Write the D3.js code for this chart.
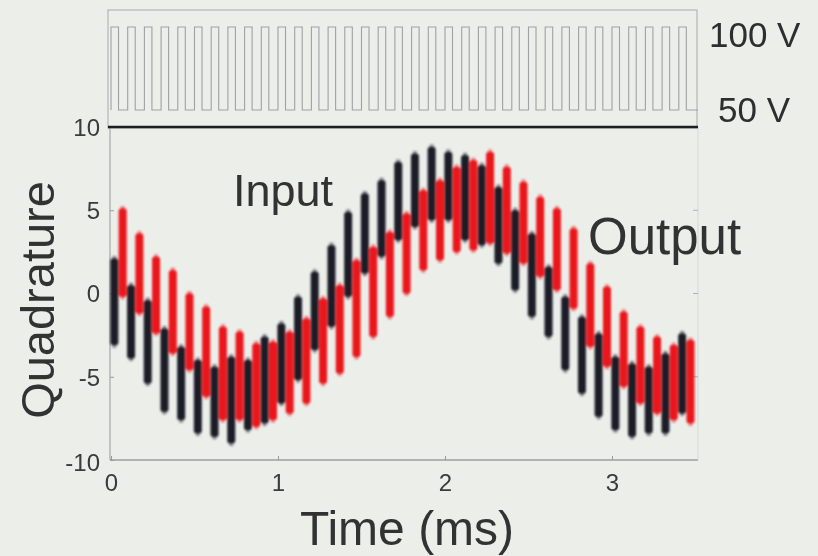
<!DOCTYPE html>
<html>
<head>
<meta charset="utf-8">
<script src="https://cdn.jsdelivr.net/npm/d3@7"></script>
<style>
  body { margin: 0; background: #eceeea; }
  svg { display: block; font-family: "Liberation Sans", Arial, sans-serif; }
</style>
</head>
<body>
<svg id="chart" width="818" height="556"></svg>
<script>
// sample times (ms) of the input (black) and output (red) bursts
var inputTimes  = [0.02,0.12,0.22,0.32,0.42,0.52,0.62,0.72,0.82,0.92,1.02,1.12,1.22,1.32,1.42,1.52,1.62,1.72,1.82,1.92,2.02,2.12,2.22,2.32,2.42,2.52,2.62,2.72,2.82,2.92,3.02,3.12,3.22,3.32,3.42];
var inputTop    = [2.1,0.5,-0.4,-2.1,-3.2,-4.0,-4.4,-3.8,-4.0,-2.6,-1.8,-0.2,1.3,2.9,4.9,6.0,6.8,7.9,8.4,8.8,8.5,8.3,7.7,6.4,5.0,3.6,1.6,-0.2,-1.4,-2.4,-3.8,-4.2,-4.4,-3.6,-2.4];
var inputBottom = [-3.1,-3.9,-5.4,-7.1,-7.6,-8.4,-8.6,-9.0,-8.2,-7.8,-6.6,-5.2,-3.4,-2.0,-0.2,1.2,2.2,3.2,4.0,4.4,4.4,3.2,2.9,1.8,0.2,-1.4,-2.6,-4.6,-6.0,-7.4,-8.2,-8.6,-8.4,-8.4,-7.2];

var outputTimes  = [0.07,0.17,0.27,0.37,0.47,0.57,0.67,0.77,0.87,0.97,1.07,1.17,1.27,1.37,1.47,1.57,1.67,1.77,1.87,1.97,2.07,2.17,2.27,2.37,2.47,2.57,2.67,2.77,2.87,2.97,3.07,3.17,3.27,3.37,3.47];
var outputTop    = [5.1,3.6,2.2,1.4,0.0,-0.8,-2.0,-2.3,-3.0,-2.9,-2.3,-1.5,-0.3,0.5,2.0,2.8,3.7,4.8,6.2,6.8,7.6,8.0,8.5,7.6,6.7,5.8,5.1,3.9,1.8,0.4,-1.1,-2.0,-2.6,-3.1,-2.8];
var outputBottom = [-0.2,-1.2,-2.4,-3.6,-4.6,-6.2,-7.6,-7.6,-8.0,-7.6,-7.2,-6.6,-5.4,-4.8,-3.8,-2.6,-1.4,0.0,1.4,2.0,2.5,2.6,3.0,2.4,1.8,1.0,0.2,-0.9,-3.2,-4.4,-5.6,-6.6,-7.2,-7.6,-7.8];

// drive voltage: start times (ms) of each 100 V pulse, 50 V otherwise
var pulseStarts = [0.00,0.10,0.20,0.30,0.40,0.50,0.60,0.70,0.80,0.90,1.00,1.10,1.20,1.30,1.40,1.50,1.60,1.70,1.80,1.90,2.00,2.10,2.20,2.30,2.40,2.50,2.60,2.70,2.80,2.90,3.00,3.10,3.20,3.30,3.40];
var pulseWidth = 0.045;
var voltLabels = ["100 V", "50 V"];

var xTicks = [0, 1, 2, 3];
var yTicks = [-10, -5, 0, 5, 10];

var svg = d3.select("#chart");
var tEnd = 3.515;

var x = d3.scaleLinear().domain([0, tEnd]).range([111, 698]);
var y = d3.scaleLinear().domain([-10, 10]).range([460, 127]);
var yV = d3.scaleLinear().domain([50, 100]).range([110, 27]);

var defs = svg.append("defs");
defs.append("filter").attr("id", "soft")
  .append("feGaussianBlur").attr("stdDeviation", 0.8);
defs.append("filter").attr("id", "softText")
  .append("feGaussianBlur").attr("stdDeviation", 0.45);

// ---- top panel (drive voltage)
svg.append("rect")
  .attr("x", 108).attr("y", 10)
  .attr("width", 589).attr("height", 118)
  .attr("fill", "none").attr("stroke", "#b4b6b4").attr("stroke-width", 1.2);

var wave = [[0, 50]];
pulseStarts.forEach(function(s) {
  wave.push([s, 50], [s, 100], [s + pulseWidth, 100], [s + pulseWidth, 50]);
});
wave.push([tEnd, 50]);

svg.append("path")
  .datum(wave)
  .attr("d", d3.line().x(function(d) { return x(d[0]); }).y(function(d) { return yV(d[1]); }))
  .attr("fill", "none").attr("stroke", "#9fa1a3").attr("stroke-width", 1.1);

svg.selectAll(".vlab")
  .data([100, 50])
  .enter().append("text")
  .attr("x", function(d, i) { return i == 0 ? 709 : 718; })
  .attr("y", function(d, i) { return i == 0 ? 47 : 122; })
  .attr("font-size", 35).attr("fill", "#2e2e2e")
  .attr("filter", "url(#softText)")
  .text(function(d, i) { return voltLabels[i]; });

// ---- main panel
var g = svg.append("g");

g.append("line").attr("x1", 110).attr("x2", 110).attr("y1", y(10)).attr("y2", y(-10))
  .attr("stroke", "#a6a8aa").attr("stroke-width", 1.2);
g.append("line").attr("x1", 110).attr("x2", 698).attr("y1", y(-10)).attr("y2", y(-10))
  .attr("stroke", "#9c9ea0").attr("stroke-width", 1.6);
g.append("line").attr("x1", 698).attr("x2", 698).attr("y1", y(10)).attr("y2", y(-10))
  .attr("stroke", "#d6d8d6").attr("stroke-width", 1);

var fmt = function(d) { return String(d); };

var yAxis = d3.axisLeft(y).tickValues(yTicks).tickSize(4).tickPadding(6).tickFormat(fmt);
var yG = g.append("g").attr("transform", "translate(110,0)").call(yAxis);
yG.select(".domain").remove();
yG.selectAll("line").attr("stroke", "#9a9a9a").attr("x2", 4);
yG.selectAll("text").attr("font-size", 24).attr("fill", "#3a3a3a")
  .attr("font-family", "Liberation Sans, Arial, sans-serif")
  .attr("filter", "url(#softText)")
  .attr("dy", function(d) { return d == -10 ? "0.45em" : "0.35em"; });

// right side ticks
g.selectAll(".rtick").data(yTicks.slice(1, 4)).enter().append("line")
  .attr("x1", 693).attr("x2", 698)
  .attr("y1", function(d) { return y(d); }).attr("y2", function(d) { return y(d); })
  .attr("stroke", "#b0b0b0");

var xAxis = d3.axisBottom(x).tickValues(xTicks).tickSize(4).tickPadding(10).tickFormat(fmt);
var xG = g.append("g").attr("transform", "translate(0," + y(-10) + ")").call(xAxis);
xG.select(".domain").remove();
xG.selectAll("line").attr("stroke", "#9a9a9a").attr("y2", -4);
xG.selectAll("text").attr("font-size", 24).attr("fill", "#3a3a3a")
  .attr("filter", "url(#softText)")
  .attr("font-family", "Liberation Sans, Arial, sans-serif");

var bars = g.append("g").attr("filter", "url(#soft)");

// output (red) bursts
var outG = bars.selectAll(".out").data(outputTimes).enter().append("g");
outG.append("rect")
  .attr("x", function(d) { return x(d) - 4; })
  .attr("y", function(d, i) { return y(outputTop[i]); })
  .attr("width", 8)
  .attr("height", function(d, i) { return y(outputBottom[i]) - y(outputTop[i]); })
  .attr("rx", 2.5)
  .attr("fill", "#ea141a");
outG.append("rect")
  .attr("x", function(d) { return x(d) - 2; })
  .attr("y", function(d, i) { return y(outputTop[i]) - 2.5; })
  .attr("width", 4)
  .attr("height", function(d, i) { return y(outputBottom[i]) - y(outputTop[i]) + 5; })
  .attr("fill", "#ea141a").attr("opacity", 0.5);

// input (black) bursts
var inG = bars.selectAll(".inp").data(inputTimes).enter().append("g");
inG.append("rect")
  .attr("x", function(d) { return x(d) - 4; })
  .attr("y", function(d, i) { return y(inputTop[i]); })
  .attr("width", 8)
  .attr("height", function(d, i) { return y(inputBottom[i]) - y(inputTop[i]); })
  .attr("rx", 2.5)
  .attr("fill", "#1b1c28");
inG.append("rect")
  .attr("x", function(d) { return x(d) - 2; })
  .attr("y", function(d, i) { return y(inputTop[i]) - 2.5; })
  .attr("width", 4)
  .attr("height", function(d, i) { return y(inputBottom[i]) - y(inputTop[i]) + 5; })
  .attr("fill", "#1b1c28").attr("opacity", 0.5);

// heavy top border of main panel
g.append("line").attr("x1", 108).attr("x2", 698).attr("y1", y(10)).attr("y2", y(10))
  .attr("stroke", "#1e1e1e").attr("stroke-width", 2.4);

// labels
var labels = svg.append("g").attr("fill", "#333").attr("filter", "url(#softText)");
labels.append("text").attr("x", 233).attr("y", 206).attr("font-size", 45)
  .text("Input");
labels.append("text").attr("x", 588).attr("y", 254).attr("font-size", 51)
  .text("Output");
labels.append("text").attr("transform", "translate(54,300) rotate(-90)")
  .attr("text-anchor", "middle").attr("font-size", 47)
  .text("Quadrature");
labels.append("text").attr("x", 407).attr("y", 545).attr("text-anchor", "middle")
  .attr("font-size", 48)
  .text("Time (ms)");
</script>
</body>
</html>
